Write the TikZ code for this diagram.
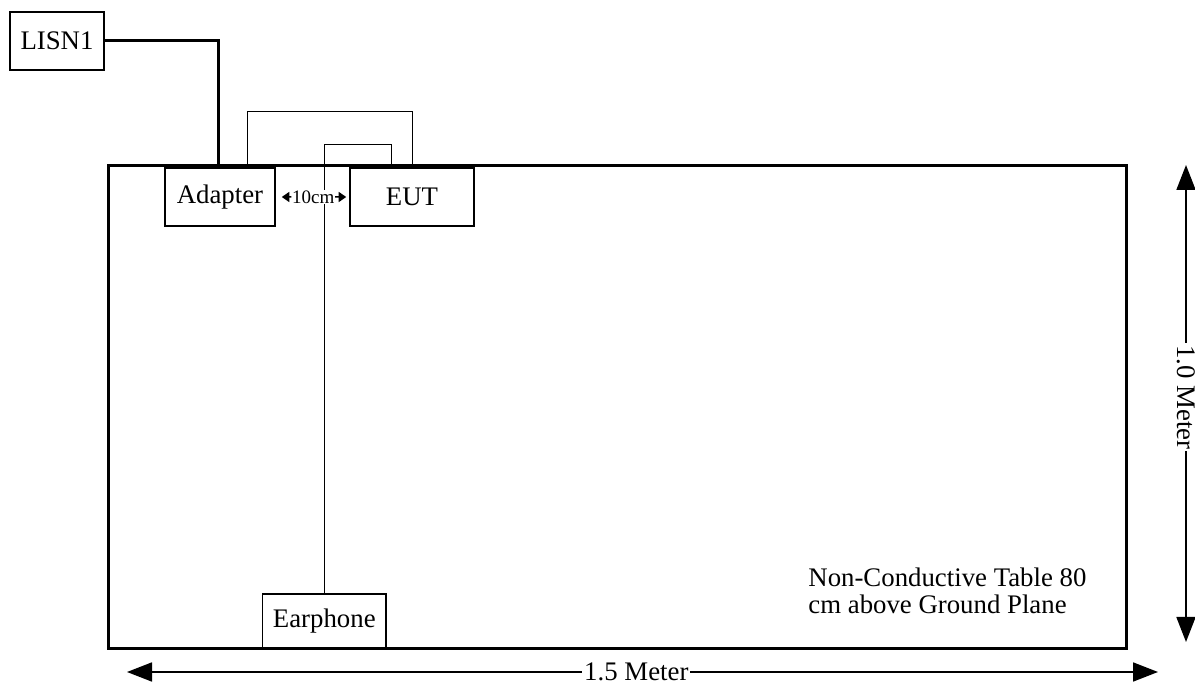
\documentclass[tikz,border=0pt]{standalone}
\usepackage{fontspec}
\setmainfont{Liberation Serif}
\usetikzlibrary{
		calc,
		positioning,
		arrows.meta
	}
\tikzset{
		>=stealth,
		unit/.style={draw, line width=0.75pt, inner sep=0pt, font=\fontsize{13.4}{13.5}\selectfont},
		cable/.style={line width=0.5pt},
		mains/.style={line width=1.5pt},
		bigarrow/.style={line width=0.9pt, {Triangle[length=12.5pt,width=9.5pt]}-{Triangle[length=12.5pt,width=9.5pt]}},
		smallarrow/.style={line width=0.75pt, -{Triangle[length=3.8pt,width=5pt]}}
	}

\begin{document}
\begin{tikzpicture}[x=0.5pt, y=-0.5pt]
		\useasboundingbox (0,0) rectangle (1195,683);
		% Table
		\node[draw, line width=1.5pt, minimum width=509pt, minimum height=241.5pt] (table) at (617,407.5) {};
		% Boxes
		\node[unit, minimum width=47pt, minimum height=29pt] (lisn) at (57,41) {LISN1};
		\node[unit, minimum width=55pt, minimum height=29pt] (adapter) at (220,197) {Adapter};
		\node[unit, minimum width=62pt, minimum height=29pt] (eut) at (412,197) {EUT};
		\node[unit, minimum width=61.7pt, minimum height=27.5pt] (earph) at (324.3,621.5) {Earphone};
		% Cables
		\draw[mains] (lisn.east) -| ([xshift=-1pt]adapter.north);
		\draw[cable] ([xshift=13.5pt]adapter.north) -- ++(0,-56) -| (eut.north);
		\draw[cable] ([xshift=-10.5pt]eut.north) -- ++(0,-23) -| (earph.north);
		% Distance between adapter and EUT
		\node[fill=white, inner sep=0.2pt, font=\fontsize{9.5}{10}\selectfont] (gap) at ($(adapter.east)!.51!(eut.west)$) {10cm};
		\draw[smallarrow] (gap.west) -- ([xshift=3pt]adapter.east);
		\draw[smallarrow] (gap.east) -- ([xshift=-1.5pt]eut.west);
		% Table note
		\node[anchor=north west, inner sep=0pt, align=left, font=\fontsize{13.4}{13.5}\selectfont] (note) at (808,568)
			{Non-Conductive Table 80\\cm above Ground Plane};
		% Dimensions
		\coordinate (wl) at (127,672);
		\coordinate (wr) at (1158,672);
		\coordinate (ht) at (1186,165);
		\coordinate (hb) at (1186,642);
		\draw[bigarrow] (wl) -- (wr) node[pos=.494, fill=white, inner sep=1pt, font=\fontsize{13.4}{13.5}\selectfont] (width) {1.5 Meter};
		\draw[bigarrow] (ht) -- (hb) node[pos=.487, fill=white, inner sep=1pt, rotate=-90, font=\fontsize{13.4}{13.5}\selectfont] (height) {1.0 Meter};
	\end{tikzpicture}
\end{document}
